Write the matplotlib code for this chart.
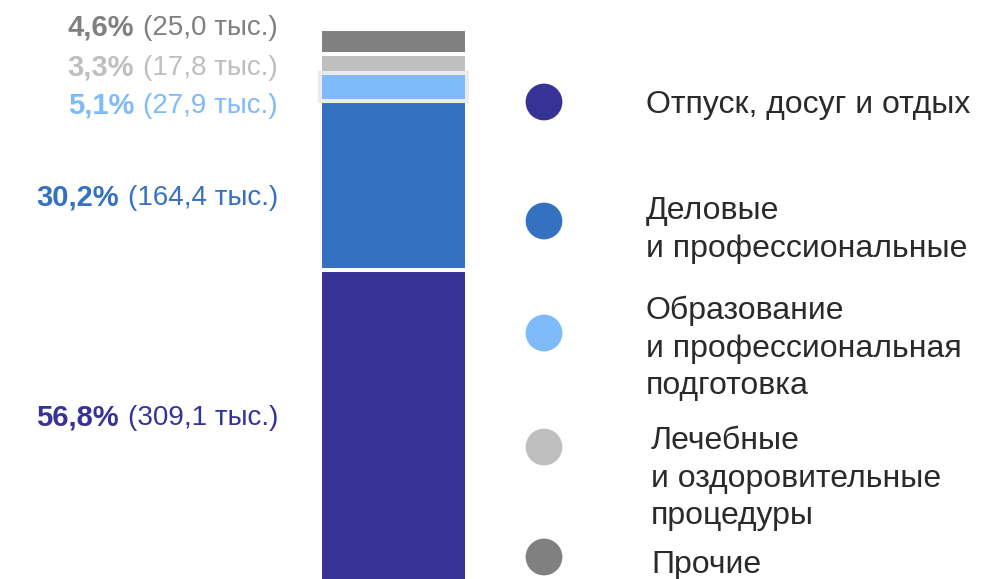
import matplotlib.pyplot as plt

plt.rcParams['font.family'] = ['Liberation Sans', 'DejaVu Sans']

# данные
categories = ['Отпуск, досуг и отдых',
              'Деловые\nи профессиональные',
              'Образование\nи профессиональная\nподготовка',
              'Лечебные\nи оздоровительные\nпроцедуры',
              'Прочие']
shares = [56.8, 30.2, 5.1, 3.3, 4.6]          # %
counts = ['309,1', '164,4', '27,9', '17,8', '25,0']  # тыс.
share_txt = ['56,8%', '30,2%', '5,1%', '3,3%', '4,6%']
colors = ['#373296', '#3571c1', '#7fbafa', '#bfbfbf', '#808080']

W, H = 1004, 579
fig = plt.figure(figsize=(W / 100, H / 100), dpi=100)
ax = fig.add_axes([0, 0, 1, 1])
ax.axis('off')

bottom = 0
bottoms = []
for share, col in zip(shares, colors):
    ax.bar(0, share, width=1, bottom=bottom, color=col,
           edgecolor='white', linewidth=2.9, zorder=2)
    bottoms.append(bottom)
    bottom += share

# подсветка сегмента "Образование"
ax.bar(0, shares[2], width=1, bottom=bottoms[2], color=colors[2],
       edgecolor='#ebebeb', linewidth=2.9, zorder=3)

ax.set_xlim(-393.5 / 147, (W - 393.5) / 147)
ax.set_ylim(1.31, 105.15)


def fx(x):
    return x / W


def fy(y):
    return 1 - y / H


# подписи слева
label_base = [425, 205, 113, 75, 35]
renderer = fig.canvas.get_renderer()
for i in range(len(shares)):
    t = fig.text(fx(278), fy(label_base[i]), '(' + counts[i] + ' тыс.)',
                 ha='right', va='baseline', fontsize=20, color=colors[i])
    bb = t.get_window_extent(renderer)
    fig.text(fx(bb.x0 - 9), fy(label_base[i]), share_txt[i],
             ha='right', va='baseline', fontsize=21, fontweight='bold',
             color=colors[i])

# легенда
marker_y = [102, 221, 333, 447, 557]
ax.scatter([fx(544)] * 5, [fy(y) for y in marker_y], s=700, c=colors,
           transform=fig.transFigure, clip_on=False, linewidths=0, zorder=4)

text_x = [646, 646, 646, 651, 651]
first_base = [113, 219, 319, 449, 573]
for i, cat in enumerate(categories):
    for j, line in enumerate(cat.split('\n')):
        fig.text(fx(text_x[i]), fy(first_base[i] + 37.5 * j), line,
                 ha='left', va='baseline', fontsize=23, color='#2a2a2a')

fig.savefig('out.png', dpi=100)
